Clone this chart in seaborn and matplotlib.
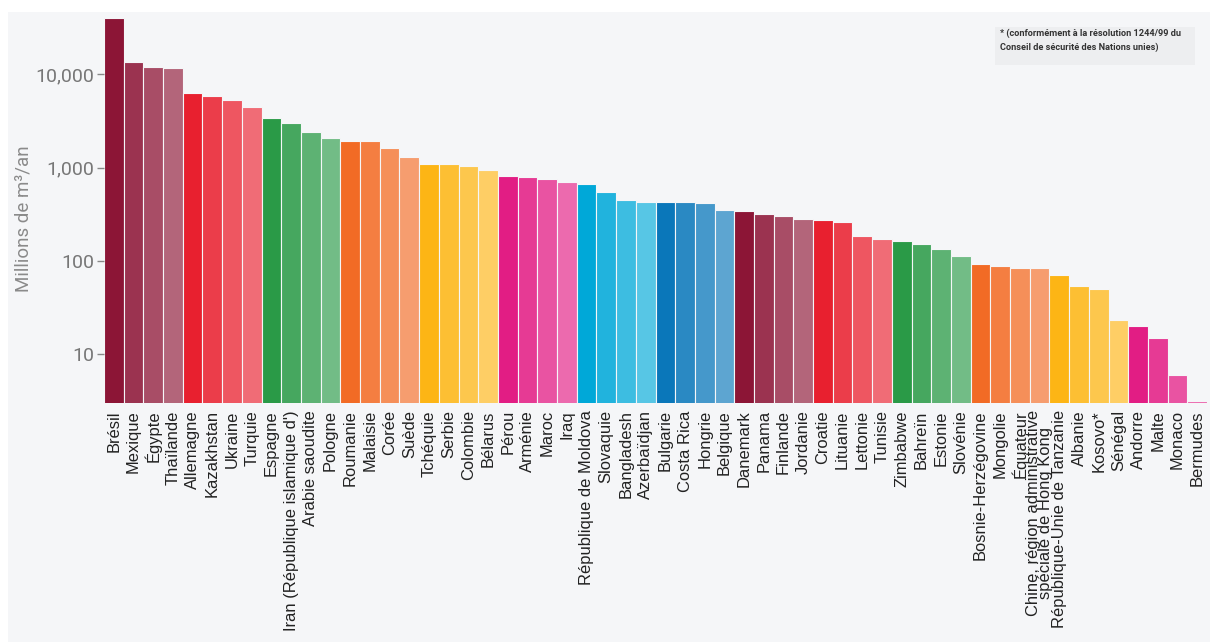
import numpy as np
import pandas as pd
import seaborn as sns
import matplotlib.pyplot as plt
from matplotlib.patches import Rectangle
from matplotlib.ticker import FixedLocator, FuncFormatter, NullLocator

# Pays, dans l'ordre du graphique
countries = [
    'Brésil', 'Mexique', 'Égypte', 'Thaïlande', 'Allemagne', 'Kazakhstan',
    'Ukraine', 'Turquie', 'Espagne', "Iran (République islamique d')",
    'Arabie saoudite', 'Pologne', 'Roumanie', 'Malaisie', 'Corée', 'Suède',
    'Tchéquie', 'Serbie', 'Colombie', 'Bélarus', 'Pérou', 'Arménie', 'Maroc',
    'Iraq', 'République de Moldova', 'Slovaquie', 'Bangladesh', 'Azerbaïdjan',
    'Bulgarie', 'Costa Rica', 'Hongrie', 'Belgique', 'Danemark', 'Panama',
    'Finlande', 'Jordanie', 'Croatie', 'Lituanie', 'Lettonie', 'Tunisie',
    'Zimbabwe', 'Bahreïn', 'Estonie', 'Slovénie', 'Bosnie-Herzégovine',
    'Mongolie', 'Équateur',
    'Chine, région administrative\nspéciale de Hong Kong',
    'République-Unie de Tanzanie', 'Albanie', 'Kosovo*', 'Sénégal',
    'Andorre', 'Malte', 'Monaco', 'Bermudes',
]

# Millions de m3/an (échelle log)
values = [
    39500, 13350, 11800, 11500, 6210, 5800, 5260, 4460, 3400, 3030,
    2390, 2070, 1910, 1910, 1610, 1300, 1100, 1085, 1050, 942,
    820, 800, 750, 697, 663, 544, 454, 432, 425, 425,
    414, 351, 340, 322, 303, 281, 274, 261, 185, 173,
    162, 153, 133, 113, 91.8, 87.4, 83.2, 83.2, 71.3, 53.4,
    50.0, 23.5, 20.1, 15.1, 6.0, 3.15,
]

y_ticks = [10, 100, 1000, 10000]

# couleurs de base, 4 nuances par groupe
base_colors = ['#8C1536', '#E8202F', '#2A9A47', '#F26B25', '#FDB515',
               '#E21D84', '#00A8D8', '#0A77BA']
group_order = [0, 1, 2, 3, 4, 5, 6, 7, 0, 1, 2, 3, 4, 5]


def lighten(hex_color, amount):
    rgb = np.array([int(hex_color[i:i + 2], 16) for i in (1, 3, 5)]) / 255
    rgb = rgb + (1 - rgb) * amount
    return tuple(rgb)


palette = []
for g in group_order:
    for amt in [0.0, 0.13, 0.24, 0.34]:
        palette.append(lighten(base_colors[g], amt))

df = pd.DataFrame({'Pays': countries, 'Valeur': values})

bg = '#F5F6F8'
plt.rcParams['font.family'] = ['Roboto', 'DejaVu Sans']

fig = plt.figure(figsize=(12.1, 6.42), dpi=100, facecolor='white')
# panneau gris clair derrière tout
fig.add_artist(Rectangle((8 / 1210, 0), 1 - 8 / 1210, 1 - 12 / 642,
                         transform=fig.transFigure, facecolor=bg,
                         edgecolor='none', zorder=-5))
ax = fig.add_axes([104 / 1210, 1 - 403.3 / 642, (1207 - 104) / 1210,
                   (403.3 - 18.3) / 642])
ax.patch.set_visible(False)
ax.set_zorder(1)

sns.barplot(data=df, x='Pays', y='Valeur', hue='Pays', palette=palette,
            saturation=1, width=1, edgecolor=bg, linewidth=0.8,
            legend=False, ax=ax)

ax.set_yscale('log')
ax.set_ylim(3.0, 39500)
ax.set_xlim(-0.5, len(countries) - 0.5)
ax.yaxis.set_major_locator(FixedLocator(y_ticks))
ax.yaxis.set_minor_locator(NullLocator())
ax.yaxis.set_major_formatter(FuncFormatter(lambda v, p: f'{int(v):,}'))

for s in ax.spines.values():
    s.set_visible(False)

ax.tick_params(axis='y', colors='#888888', labelsize=14, length=5, width=1,
               pad=2, labelcolor='#777777')
ax.tick_params(axis='x', length=0, labelsize=11.9, labelcolor='#222222',
               pad=5, rotation=90)
for lbl in ax.get_xticklabels():
    lbl.set_family(['Liberation Sans', 'DejaVu Sans'])
    lbl.set_linespacing(0.78)

ax.set_xlabel('')
ax.set_ylabel('Millions de m³/an', fontsize=13.5, color='#8A8A8A', labelpad=8)
ax.yaxis.set_label_coords(-0.065, 0.48)

# note Kosovo
fig.add_artist(Rectangle((995 / 1210, 1 - 65 / 642), 200 / 1210, 38 / 642,
                         transform=fig.transFigure, facecolor='#EDEEF0',
                         edgecolor='none', zorder=2))
fig.text(1000 / 1210, 1 - 40 / 642,
         '* (conformément à la résolution 1244/99 du\nConseil de sécurité des Nations unies)',
         fontsize=6.6, fontweight='bold', color='#333333', va='center',
         ha='left', linespacing=1.6, zorder=3)

fig.savefig('out.png', dpi=100, facecolor='white')
